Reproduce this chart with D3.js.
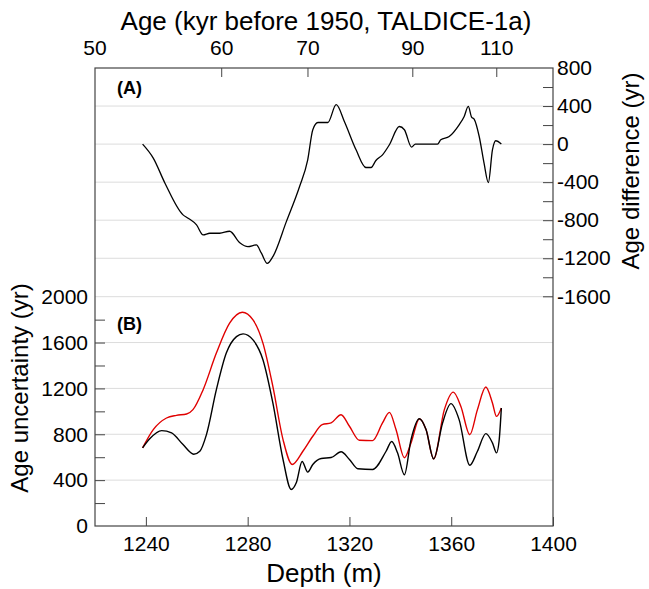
<!DOCTYPE html>
<html>
<head>
<meta charset="utf-8">
<script src="https://cdn.jsdelivr.net/npm/d3@7"></script>
<style>
	body { margin: 0; background: #fff; }
	text { font-family: "Liberation Sans", Arial, sans-serif; fill: #000; }
</style>
</head>
<body>
<svg id="chart" width="649" height="589"></svg>
<script>
// panel A: age difference (yr) vs depth (m)
const depthA = [1238.7, 1242.9, 1247.5, 1254.6, 1256.6, 1259.9, 1262.5, 1265.1, 1269, 1272.9, 1276.9, 1280.1,
	1283.4, 1285.4, 1287.7, 1289.9, 1295.2, 1300.4, 1303.6, 1305.6, 1307.6, 1311.5, 1314.8, 1318, 1322.6,
	1326.5, 1328.5, 1330.4, 1333, 1335.7, 1339.6, 1341.6, 1344.4, 1345.9, 1354.6, 1355.9, 1359.2, 1363.1,
	1365.1, 1366.7, 1368, 1369, 1371, 1372.9, 1374.6, 1376.2, 1377.5, 1379.7];
const diffA = [0, -147, -411, -744, -779, -849, -955, -937, -937, -916, -1036, -1078,
	-1060, -1147, -1253, -1183, -815, -446, -165, 151, 227, 227, 414, 238, -60,
	-246, -246, -172, -113, -7, 185, 151, -32, 0, 0, 45, 80, 203,
	291, 396, 284, 263, 80, -200, -404, -60, 35, 0];

// panel B: age uncertainty (yr), black series
const depthB1 = [1238.7, 1241.6, 1246.2, 1250.1, 1254.6, 1258.8, 1261.2, 1263.8, 1267.7, 1271.6, 1275.6, 1278.2,
	1282.1, 1286, 1289.9, 1293.9, 1297.1, 1299.1, 1301.4, 1303.6, 1305.6, 1308.9, 1312.8, 1316.7, 1320,
	1323.3, 1329.1, 1334.4, 1336.6, 1338.9, 1341.6, 1344.2, 1347.5, 1350.1, 1353.1, 1356.6, 1359.9, 1363.1,
	1367.3, 1370.3, 1373.6, 1376.2, 1377.8, 1378.8, 1379.7];
const uncB1 = [682, 763, 832, 812, 710, 626, 652, 797, 1189, 1508, 1652, 1676,
	1623, 1450, 1073, 580, 319, 377, 562, 470, 537, 589, 597, 647, 580,
	499, 493, 652, 737, 638, 447, 754, 936, 841, 586, 899, 1067, 928,
	530, 652, 806, 725, 638, 739, 1029];

// panel B: red series
const depthB2 = [1238.7, 1242.9, 1248.1, 1252, 1256, 1258.5, 1262.5, 1267.7, 1272.9, 1277.9, 1282.1, 1286,
	1289.9, 1293.9, 1297.5, 1301.7, 1305.6, 1309.3, 1312.8, 1316.7, 1320, 1323.9, 1329.1, 1333, 1335.7,
	1338.3, 1341.6, 1344.2, 1347.5, 1350.1, 1353.1, 1357.3, 1360.8, 1363.8, 1367.3, 1370.3, 1373.6, 1376.2,
	1377.8, 1379.7];
const uncB2 = [682, 841, 942, 965, 977, 1015, 1189, 1508, 1769, 1864, 1797, 1595,
	1217, 754, 537, 652, 783, 884, 899, 971, 870, 748, 745, 899, 991,
	841, 595, 725, 936, 841, 586, 1015, 1168, 1043, 797, 1015, 1212, 1073,
	956, 1029];

const depthTicks = [1240, 1280, 1320, 1360, 1400];
const ageTicks = [50, 60, 70, 90, 110];
const ageTickDepth = [1220, 1269.8, 1303.7, 1344.9, 1377.9];
const diffTicks = [800, 400, 0, -400, -800, -1200, -1600];
const diffGrid = [400, 0, -400, -800, -1200];
const uncTicks = [0, 400, 800, 1200, 1600, 2000];
const uncGrid = [2000, 1600, 1200, 800, 400];

const svg = d3.select('#chart');
const L = 95, R = 553, T = 68, B = 526;

const x = d3.scaleLinear().domain([1220, 1400]).range([L, R]);
const ageToDepth = d3.scaleLinear().domain(ageTicks).range(ageTickDepth);
const yA = d3.scaleLinear().domain([-1600, 800]).range([296.3, T]);
const yB = d3.scaleLinear().domain([0, 2000]).range([B, 296.7]);
const fmt = d => String(d);   // plain hyphen for negatives, no thousands comma

// grid lines
svg.append('g').selectAll('line').data(diffGrid).join('line')
	.attr('x1', L).attr('x2', R).attr('y1', d => yA(d)).attr('y2', d => yA(d))
	.attr('stroke', '#dcdcdc').attr('stroke-width', 1);
svg.append('g').selectAll('line').data(uncGrid).join('line')
	.attr('x1', L).attr('x2', R).attr('y1', d => yB(d)).attr('y2', d => yB(d))
	.attr('stroke', '#dcdcdc').attr('stroke-width', 1);

// axes (ticks drawn inward)
const bottomAxis = d3.axisBottom(x).tickValues(depthTicks).tickFormat(fmt)
	.tickSizeInner(-9).tickSizeOuter(0).tickPadding(10);
const gB = svg.append('g').attr('transform', `translate(0,${B})`).call(bottomAxis);

const topAxis = d3.axisTop(d3.scaleLinear().domain([50, 110]).range([0, 1]))
	.tickValues(ageTicks).tickFormat(fmt).tickSizeInner(-9).tickSizeOuter(0).tickPadding(13);
const gT = svg.append('g').attr('transform', `translate(0,${T})`).call(topAxis);
gT.selectAll('.tick').attr('transform', d => `translate(${x(ageToDepth(d))},0)`);
gT.selectAll('.tick').filter(d => d === 50).select('line').remove();

const rightAxis = d3.axisRight(yA).tickValues(d3.range(-1600, 801, 200)).tickSizeInner(-10).tickSizeOuter(0)
	.tickPadding(4).tickFormat(d => diffTicks.includes(d) ? fmt(d) : '');
const gR = svg.append('g').attr('transform', `translate(${R},0)`).call(rightAxis);

const leftAxis = d3.axisLeft(yB).tickValues(d3.range(0, 2001, 200)).tickSizeInner(-10).tickSizeOuter(0)
	.tickPadding(7).tickFormat(d => uncTicks.includes(d) ? fmt(d) : '');
const gL = svg.append('g').attr('transform', `translate(${L},0)`).call(leftAxis);

[gB, gT, gR, gL].forEach(g => {
	g.select('.domain').remove();
	g.selectAll('line').attr('stroke', '#444');
	g.selectAll('text').style('font-size', '21px').attr('fill', '#000')
		.style('font-family', '"Liberation Sans", Arial, sans-serif');
});
gL.selectAll('.tick').filter(d => d === 0 || d === 2000).select('line').remove();
gR.selectAll('.tick').filter(d => d === 800).select('line').remove();

// frame
svg.append('rect').attr('x', L).attr('y', T).attr('width', R - L).attr('height', B - T)
	.attr('fill', 'none').attr('stroke', '#444').attr('stroke-width', 1.2);

// curves
const lineA = d3.line().x((d, i) => x(depthA[i])).y(d => yA(d)).curve(d3.curveMonotoneX);
svg.append('path').attr('d', lineA(diffA)).attr('fill', 'none').attr('stroke', '#000').attr('stroke-width', 1.3);

const lineRed = d3.line().x((d, i) => x(depthB2[i])).y(d => yB(d)).curve(d3.curveMonotoneX);
svg.append('path').attr('d', lineRed(uncB2)).attr('fill', 'none').attr('stroke', '#e00000').attr('stroke-width', 1.4);

const lineBlack = d3.line().x((d, i) => x(depthB1[i])).y(d => yB(d)).curve(d3.curveMonotoneX);
svg.append('path').attr('d', lineBlack(uncB1)).attr('fill', 'none').attr('stroke', '#000').attr('stroke-width', 1.4);

// panel labels
svg.append('text').attr('x', 117).attr('y', 94).style('font-size', '18px').style('font-weight', 'bold').text('(A)');
svg.append('text').attr('x', 117).attr('y', 330).style('font-size', '18px').style('font-weight', 'bold').text('(B)');

// titles
svg.append('text').attr('x', 326).attr('y', 30).attr('text-anchor', 'middle').style('font-size', '26px')
	.text('Age (kyr before 1950, TALDICE-1a)');
svg.append('text').attr('x', 324).attr('y', 582).attr('text-anchor', 'middle').style('font-size', '26px')
	.text('Depth (m)');
svg.append('text').attr('transform', 'translate(28,388) rotate(-90)').attr('text-anchor', 'middle')
	.style('font-size', '24px').text('Age uncertainty (yr)');
svg.append('text').attr('transform', 'translate(639,171) rotate(-90)').attr('text-anchor', 'middle')
	.style('font-size', '24px').text('Age difference (yr)');
</script>
</body>
</html>
